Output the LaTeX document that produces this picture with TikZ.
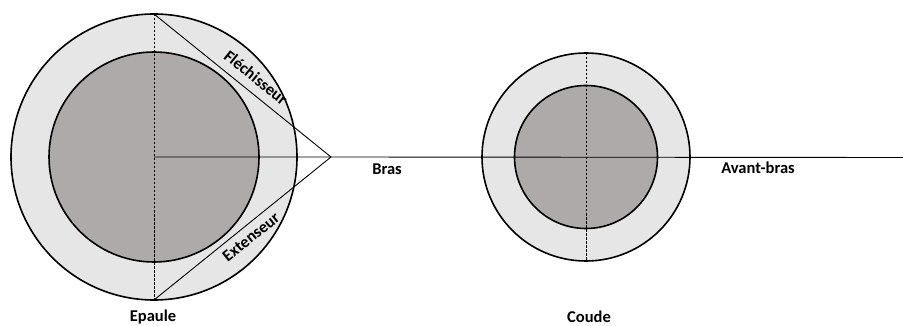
\documentclass[tikz,border=0pt]{standalone}
\usepackage{fontspec}
\setmainfont{Carlito}
\definecolor{ringgray}{HTML}{E7E6E6}
\definecolor{coregray}{HTML}{AEAAAA}
\begin{document}
\begin{tikzpicture}[x=1pt,y=-1pt,
  ring/.style={circle,draw=black,line width=1.6pt,fill=ringgray,inner sep=0pt,outer sep=0pt},
  core/.style={circle,draw=black,line width=1.6pt,fill=coregray,inner sep=0pt,outer sep=0pt},
  axis/.style={draw=black,line width=0.9pt,dash pattern=on 2.5pt off 1.5pt},
  thin/.style={draw=black,line width=0.9pt},
  lbl/.style={font=\bfseries\fontsize{16.5}{19}\selectfont,inner sep=0pt}]
\useasboundingbox (0,0) rectangle (903,326);
% shoulder
\node[ring,minimum size=286pt] (epo) at (154,157) {};
\node[core,minimum size=210pt] (epi) at (154,157) {};
% elbow
\node[ring,minimum size=208pt] (coo) at (586,157) {};
\node[core,minimum size=143pt] (coi) at (586,157) {};
\coordinate (apex) at (331,157);
\coordinate (end) at (903,157.5);
\draw[axis] (epo.north) -- (epo.south);
\draw[axis] (coo.north) -- (coo.south);
\draw[thin] (epi.center) -- (apex) -- (end);
\draw[thin] (epo.north) -- (apex);
\draw[thin] (epo.south) -- (apex);
\node[lbl,rotate=-38.9] (fle) at (256,77.5) {Fléchisseur};
\node[lbl,rotate=38.9] (ext) at (251,237) {Extenseur};
\node[lbl] (bras) at (387,169) {Bras};
\node[lbl] (avb) at (758,168) {Avant-bras};
\node[lbl] (epa) at (153,317) {Epaule};
\node[lbl] (cou) at (589,317) {Coude};
\end{tikzpicture}
\end{document}
